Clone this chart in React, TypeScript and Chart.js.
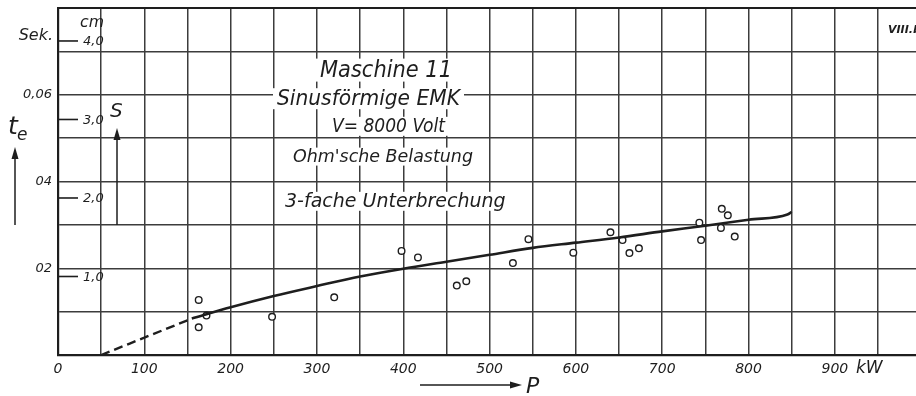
import React, { useEffect, useRef } from 'react';
import { Chart, registerables } from 'chart.js';

Chart.register(...registerables);

// ---- data ----
const curveDashKW = [50, 100, 155];
const curveDashTe = [0, 0.004, 0.0084];
const curveKW = [155, 200, 250, 300, 350, 400, 450, 500, 550, 600, 650, 700, 750, 800, 845, 850];
const curveTe = [0.0084, 0.011, 0.0136, 0.0159, 0.0181, 0.0199, 0.0215, 0.0231, 0.0247, 0.0259, 0.0271, 0.0285, 0.0298, 0.0312, 0.0324, 0.033];
const measuredKW = [163, 163, 172, 248, 320, 398, 417, 462, 473, 527, 545, 597, 640, 654, 662, 673, 743, 745, 769, 776, 768, 784];
const measuredTe = [0.0127, 0.0064, 0.0091, 0.0088, 0.0133, 0.024, 0.0225, 0.016, 0.017, 0.0212, 0.0267, 0.0236, 0.0283, 0.0265, 0.0235, 0.0246, 0.0305, 0.0265, 0.0337, 0.0322, 0.0293, 0.0273];

const xTickValues = [0, 100, 200, 300, 400, 500, 600, 700, 800, 900];
const teTickValues = [0.02, 0.04, 0.06];
const teTickLabels = ['02', '04', '0,06'];
const sTickValues = [1, 2, 3, 4];
const sTickLabels = ['1,0', '2,0', '3,0', '4,0'];

const noteTexts = ['Maschine 11', 'Sinusförmige EMK', 'V= 8000 Volt', "Ohm'sche Belastung", '3-fache Unterbrechung'];

// ---- layout / style ----
const X_MAX = 994;
const Y_MAX = 0.08;
const S_MAX = 4.42;
const INK = '#1e1e1e';
const GRID = '#3c3c3c';
const FONT = '"DejaVu Sans", "Liberation Sans", sans-serif';
const noteLayout = [
  { x: 320, w: 132, base: 77, size: 23 },
  { x: 277, w: 183, base: 105, size: 21 },
  { x: 332, w: 113, base: 132, size: 19 },
  { x: 293, w: 180, base: 162, size: 18 },
  { x: 285, w: 225, base: 207, size: 19 },
];

function arrow(ctx: CanvasRenderingContext2D, x1: number, y1: number, x2: number, y2: number) {
  const ang = Math.atan2(y2 - y1, x2 - x1);
  const hl = 12, hw = 3.5;
  ctx.beginPath();
  ctx.moveTo(x1, y1);
  ctx.lineTo(x2 - Math.cos(ang) * hl * 0.6, y2 - Math.sin(ang) * hl * 0.6);
  ctx.stroke();
  ctx.beginPath();
  ctx.moveTo(x2, y2);
  ctx.lineTo(x2 - Math.cos(ang) * hl - Math.sin(ang) * hw, y2 - Math.sin(ang) * hl + Math.cos(ang) * hw);
  ctx.lineTo(x2 - Math.cos(ang) * hl + Math.sin(ang) * hw, y2 - Math.sin(ang) * hl - Math.cos(ang) * hw);
  ctx.closePath();
  ctx.fill();
}

const overlay = {
  id: 'overlay',
  beforeDatasetsDraw(chart: any) {
    const { ctx, chartArea, scales } = chart;
    const yS = scales.yS;
    ctx.save();
    // secondary S scale (cm)
    ctx.strokeStyle = INK;
    ctx.fillStyle = INK;
    ctx.lineWidth = 1.6;
    ctx.font = `italic 13px ${FONT}`;
    ctx.textAlign = 'left';
    ctx.textBaseline = 'middle';
    sTickValues.forEach((v, i) => {
      const y = yS.getPixelForValue(v);
      ctx.beginPath();
      ctx.moveTo(chartArea.left, y);
      ctx.lineTo(chartArea.left + 20, y);
      ctx.stroke();
      ctx.fillText(sTickLabels[i], chartArea.left + 25, y + 1);
    });
    // annotation block with white boxes
    ctx.textBaseline = 'alphabetic';
    noteTexts.forEach((t, i) => {
      const L = noteLayout[i];
      ctx.fillStyle = '#ffffff';
      ctx.fillRect(L.x - 4, L.base - L.size * 0.8, L.w + 8, L.size * 1.0);
      ctx.fillStyle = INK;
      ctx.font = `italic ${L.size}px ${FONT}`;
      ctx.fillText(t, L.x, L.base, L.w);
    });
    ctx.restore();
  },
  afterDraw(chart: any) {
    const { ctx, chartArea } = chart;
    ctx.save();
    ctx.strokeStyle = INK;
    ctx.fillStyle = INK;
    // top border
    ctx.lineWidth = 2.2;
    ctx.beginPath();
    ctx.moveTo(chartArea.left - 1, chartArea.top);
    ctx.lineTo(chartArea.right, chartArea.top);
    ctx.stroke();
    // texts outside the grid
    ctx.textBaseline = 'alphabetic';
    ctx.font = `italic 16px ${FONT}`;
    ctx.textAlign = 'right';
    ctx.fillText('Sek.', 53, 40);
    ctx.textAlign = 'left';
    ctx.fillText('cm', 80, 27, 24);
    ctx.font = `italic 20px ${FONT}`;
    ctx.fillText('S', 110, 117);
    ctx.font = `italic 25px ${FONT}`;
    ctx.fillText('t', 8, 134);
    ctx.font = `italic 17px ${FONT}`;
    ctx.fillText('e', 17, 140);
    ctx.font = `italic 22px ${FONT}`;
    ctx.fillText('P', 526, 393);
    ctx.font = `italic 17px ${FONT}`;
    ctx.fillText('kW', 856, 373, 31);
    ctx.font = `italic bold 11px ${FONT}`;
    ctx.fillText('VIII.b', 888, 33);
    // arrows
    ctx.lineWidth = 1.5;
    arrow(ctx, 15, 225, 15, 147);
    arrow(ctx, 117, 225, 117, 128);
    arrow(ctx, 420, 385, 522, 385);
    ctx.restore();
  },
};

export default function App() {
  const ref = useRef<HTMLCanvasElement | null>(null);
  useEffect(() => {
    document.body.style.margin = '0';
    const canvas = ref.current;
    if (!canvas) return;
    const chart = new Chart(canvas, {
      type: 'scatter',
      data: {
        datasets: [
          {
            data: curveDashKW.map((x, i) => ({ x, y: curveDashTe[i] })),
            showLine: true,
            borderColor: INK,
            borderWidth: 2.4,
            borderDash: [9, 5],
            pointRadius: 0,
            cubicInterpolationMode: 'monotone',
          },
          {
            data: curveKW.map((x, i) => ({ x, y: curveTe[i] })),
            showLine: true,
            borderColor: INK,
            borderWidth: 2.6,
            pointRadius: 0,
            cubicInterpolationMode: 'monotone',
          },
          {
            data: measuredKW.map((x, i) => ({ x, y: measuredTe[i] })),
            showLine: false,
            pointRadius: 3.3,
            pointBorderWidth: 1.4,
            pointBorderColor: INK,
            pointBackgroundColor: '#ffffff',
          },
        ],
      } as any,
      options: {
        animation: false,
        responsive: false,
        events: [],
        layout: { autoPadding: false, padding: { top: 8, left: 0, right: 0, bottom: 0 } },
        plugins: { legend: { display: false }, tooltip: { enabled: false }, title: { display: false } },
        scales: {
          x: {
            type: 'linear',
            min: 0,
            max: X_MAX,
            afterFit: (s: any) => {
              s.height = 41;
              s.paddingLeft = 0;
              s.paddingRight = 0;
            },
            grid: { color: GRID, lineWidth: 1.5, drawTicks: false },
            border: { color: INK, width: 2.2 },
            ticks: {
              stepSize: 50,
              includeBounds: false,
              autoSkip: false,
              maxRotation: 0,
              padding: 6,
              color: INK,
              font: { family: FONT, style: 'italic', size: 14 },
              callback: (v: any) => (xTickValues.includes(Number(v)) ? String(v) : ''),
            },
          },
          y: {
            type: 'linear',
            min: 0,
            max: Y_MAX,
            afterFit: (s: any) => {
              s.width = 58;
              s.paddingTop = 0;
              s.paddingBottom = 0;
            },
            grid: { color: GRID, lineWidth: 1.5, drawTicks: false },
            border: { color: INK, width: 2.2 },
            ticks: {
              stepSize: 0.01,
              autoSkip: false,
              padding: 6,
              color: INK,
              font: { family: FONT, style: 'italic', size: 13 },
              callback: (v: any) => {
                const i = teTickValues.findIndex((t) => Math.abs(t - Number(v)) < 1e-6);
                return i >= 0 ? teTickLabels[i] : '';
              },
            },
          },
          yS: {
            type: 'linear',
            display: false,
            position: 'left',
            min: 0,
            max: S_MAX,
          },
        },
      } as any,
      plugins: [overlay],
    });
    return () => chart.destroy();
  }, []);
  return (
    <div style={{ position: 'absolute', left: 0, top: 0, width: 916, height: 396, background: '#fff' }}>
      <canvas ref={ref} width={916} height={396} />
    </div>
  );
}
